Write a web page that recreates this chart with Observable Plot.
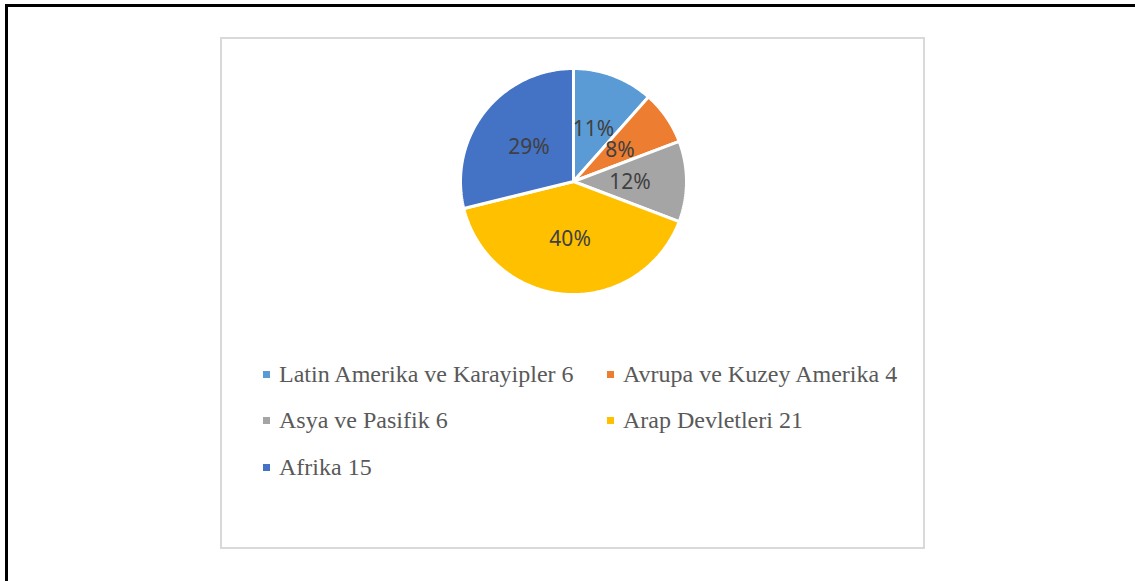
<!DOCTYPE html>
<html>
<head>
<meta charset="utf-8">
<script src="https://cdn.jsdelivr.net/npm/d3@7"></script>
<script src="https://cdn.jsdelivr.net/npm/@observablehq/plot@0.6"></script>
<style>
  html, body { margin: 0; padding: 0; background: #fff; }
  #page { position: relative; width: 1135px; height: 581px; overflow: hidden; }
  #outer { position: absolute; left: 5px; top: 4px; width: 1140px; height: 600px;
           border-top: 3px solid #000; border-left: 3px solid #000; box-sizing: border-box; }
  #box { position: absolute; left: 220px; top: 37px; width: 705px; height: 512px;
         border: 2px solid #d9d9d9; box-sizing: border-box; }
  #chart { position: absolute; left: 0; top: 0; }
  #legend { position: absolute; left: 263px; top: 360px; display: grid;
            grid-template-columns: 344px 300px; grid-auto-rows: 46.5px;
            font-family: "Liberation Serif", "Times New Roman", serif; font-size: 24px; color: #595959; }
  .item { display: flex; align-items: center; white-space: nowrap; height: 28px; }
  .sw { width: 7px; height: 7px; margin-right: 9px; flex: none; }
</style>
</head>
<body>
<div id="page">
  <div id="outer"></div>
  <div id="box"></div>
  <div id="chart"></div>
  <div id="legend"></div>
</div>
<script>
const categories = ["Latin Amerika ve Karayipler", "Avrupa ve Kuzey Amerika", "Asya ve Pasifik", "Arap Devletleri", "Afrika"];
const values = [6, 4, 6, 21, 15];
const percentLabels = ["11%", "8%", "12%", "40%", "29%"];
const colors = ["#5B9BD5", "#ED7D31", "#A5A5A5", "#FFC000", "#4472C4"];

const pie = d3.pie().sort(null).value(d => d.value)(categories.map((c, i) => ({cat: c, value: values[i], label: percentLabels[i]})));

// outline points for each slice (angles clockwise from 12 o'clock)
const pts = [];
pie.forEach(s => {
  const cat = s.data.cat;
  pts.push({cat, x: 0, y: 0});
  const n = Math.max(4, Math.ceil((s.endAngle - s.startAngle) / (Math.PI / 180)));
  for (let k = 0; k <= n; k++) {
    const a = s.startAngle + (s.endAngle - s.startAngle) * k / n;
    pts.push({cat, x: Math.sin(a), y: Math.cos(a)});
  }
  pts.push({cat, x: 0, y: 0});
});
const labels = pie.map(s => {
  const a = (s.startAngle + s.endAngle) / 2;
  return {label: s.data.label, x: 0.5 * Math.sin(a), y: 0.5 * Math.cos(a)};
});

const cx = 573, cy = 181, r = 113;
const chart = Plot.plot({
  width: 1135, height: 581,
  marginTop: 0, marginRight: 0, marginBottom: 0, marginLeft: 0,
  x: {domain: [-1, 1], range: [cx - r, cx + r], axis: null},
  y: {domain: [-1, 1], range: [cy + r, cy - r], axis: null},
  color: {domain: categories, range: colors},
  style: {background: "transparent", overflow: "visible"},
  marks: [
    Plot.line(pts, {x: "x", y: "y", z: "cat", fill: "cat", stroke: "white", strokeWidth: 3, strokeLinejoin: "miter"}),
    Plot.text(labels, {x: "x", y: "y", text: "label", fill: "#404040", fontSize: 21, fontFamily: "Noto Sans", dy: 1})
  ]
});
document.getElementById("chart").appendChild(chart);

const legend = document.getElementById("legend");
categories.forEach((c, i) => {
  const item = document.createElement("div");
  item.className = "item";
  const sw = document.createElement("span");
  sw.className = "sw";
  sw.style.background = colors[i];
  const t = document.createElement("span");
  t.textContent = c + " " + values[i];
  item.appendChild(sw);
  item.appendChild(t);
  legend.appendChild(item);
});
</script>
</body>
</html>
